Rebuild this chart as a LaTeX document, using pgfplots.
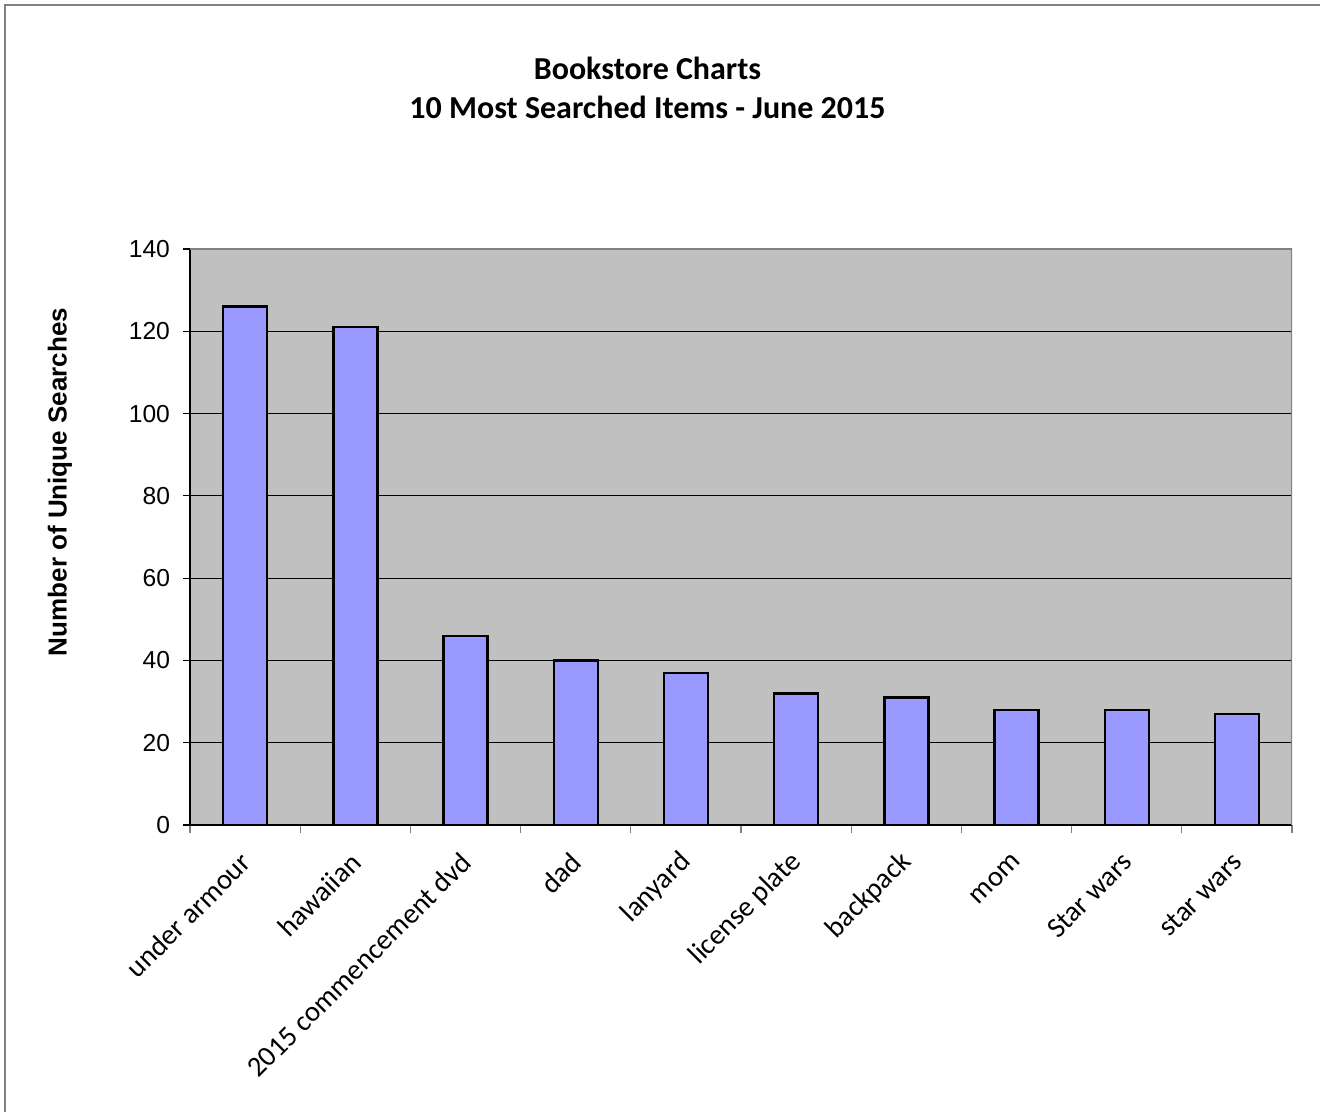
\documentclass[border=0pt]{standalone}
\usepackage{pgfplots}
\pgfplotsset{compat=1.18}
\usepackage{fontspec}
\setmainfont{Liberation Sans}
\newfontfamily\carlito{Carlito}
\definecolor{plotbg}{HTML}{C0C0C0}
\definecolor{barfill}{HTML}{9999FF}
\definecolor{framegray}{HTML}{808080}
\begin{document}
\begin{tikzpicture}
\useasboundingbox (0,0) rectangle (660pt,556pt);
\draw[framegray, line width=0.8pt] (2.5pt,0) -- (2.5pt,553.5pt) -- (660pt,553.5pt);
\node[font=\carlito\bfseries\fontsize{16}{19.5}\selectfont, align=center] at (323.75pt,512.25pt) {Bookstore Charts\\10 Most Searched Items - June 2015};
\node[rotate=90, font=\bfseries\fontsize{13}{15}\selectfont] at (30pt,315pt) {Number of Unique Searches};
\begin{axis}[
  at={(95pt,143.5pt)}, anchor=south west,
  scale only axis, width=551pt, height=288pt,
  ybar, bar width=22pt,
  xmin=-0.5, xmax=9.5, ymin=0, ymax=140,
  ytick={0,20,...,140},
  xtick={0,...,9},
  xticklabels={under armour, hawaiian, 2015 commencement dvd, dad, lanyard, license plate, backpack, mom, Star wars, star wars},
  minor xtick={-0.5,0.5,...,9.5},
  axis x line*=bottom, axis y line*=left,
  axis line style={-, black, line width=0.6pt},
  tick align=outside,
  major tick length=3.5pt, minor tick length=4pt,
  major x tick style={draw=none},
  minor x tick style={framegray, line width=0.6pt},
  major y tick style={black, line width=0.6pt},
  ymajorgrids, major grid style={black, line width=0.5pt},
  axis background/.style={fill=plotbg},
  /pgf/number format/assume math mode=true,
  yticklabel style={font=\fontsize{12.3}{14}\selectfont, xshift=-3pt},
  xticklabel style={font=\carlito\fontsize{14.3}{17}\selectfont, xshift=2.8pt, yshift=-10.3pt, rotate=45, anchor=east},
]
\addplot[fill=barfill, draw=black, line width=1.2pt] coordinates {(0,126) (1,121) (2,46) (3,40) (4,37) (5,32) (6,31) (7,28) (8,28) (9,27)};
\draw[framegray, line width=1.5pt] (rel axis cs:0,1) -- (rel axis cs:1,1) -- (rel axis cs:1,0);
\end{axis}
\end{tikzpicture}
\end{document}
